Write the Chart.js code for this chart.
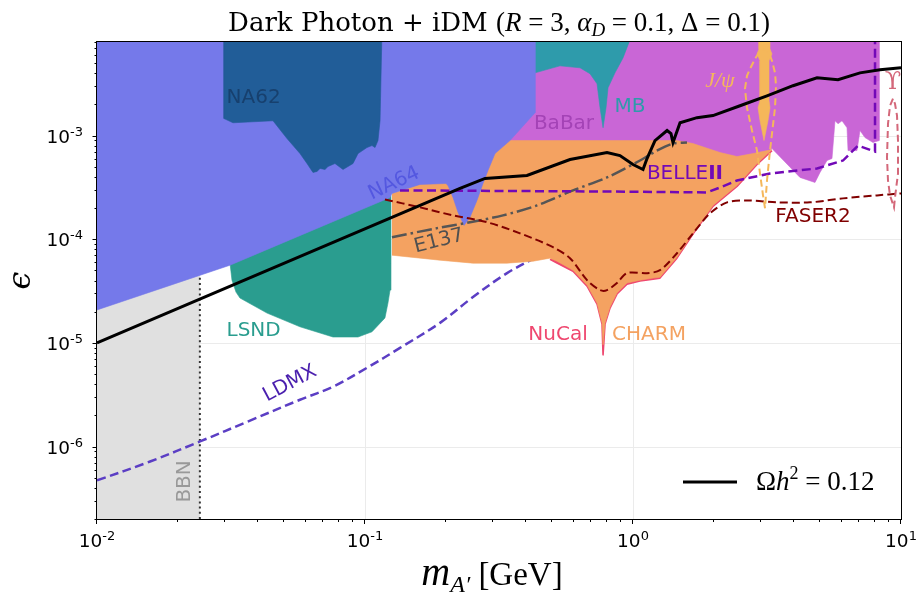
<!DOCTYPE html>
<html>
<head>
<meta charset="utf-8">
<script src="https://cdn.jsdelivr.net/npm/chart.js@4.4.1/dist/chart.umd.min.js"></script>
<style>
  html, body { margin: 0; padding: 0; background: #fff; }
</style>
</head>
<body>
<canvas id="plot" width="920" height="592"></canvas>
<script>
// x: dark photon mass m_A' [GeV], y: kinetic mixing epsilon
const xMajorTicks = [0.01, 0.1, 1, 10];
const yMajorTicks = [1e-6, 1e-5, 1e-4, 1e-3];

const bbnMass = [0.005, 0.0242, 0.0242, 0.005];
const bbnEps = [1e-7, 1e-7, 1e-2, 1e-2];
const bbnEdgeMass = [0.0242, 0.0242];
const bbnEdgeEps = [2e-7, 4.31e-5];

const na64Mass = [0.005, 0.4309, 0.4309, 0.3475, 0.3056, 0.2877, 0.2756, 0.2617, 0.2465, 0.2342, 0.2223, 0.2130, 0.2040, 0.2005, 0.1604, 0.1261, 0.1240, 0.03135, 0.01, 0.005];
const na64Eps = [1e-2, 1e-2, 1.66e-3, 8.95e-4, 6.71e-4, 4.61e-4, 3.45e-4, 2.37e-4, 1.63e-4, 1.36e-4, 1.82e-4, 2.53e-4, 3.30e-4, 3.45e-4, 3.38e-4, 2.77e-4, 2.53e-4, 5.62e-5, 2.08e-5, 2.08e-5];

const na62Mass = [0.02978, 0.02978, 0.03217, 0.04537, 0.05117, 0.05721, 0.06076, 0.06397, 0.06621, 0.06795, 0.07091, 0.07276, 0.07727, 0.08279, 0.09022, 0.0942, 0.1017, 0.1062, 0.1090, 0.1118, 0.1138, 0.1157];
const na62Eps = [1e-2, 1.46e-3, 1.33e-3, 1.39e-3, 9.36e-4, 6.71e-4, 5.38e-4, 4.41e-4, 4.51e-4, 4.82e-4, 4.71e-4, 5.03e-4, 5.38e-4, 4.71e-4, 5.38e-4, 6.71e-4, 7.67e-4, 8.01e-4, 7.67e-4, 8.95e-4, 1.39e-3, 1e-2];

const lsndMass = [0.03135, 0.03189, 0.03301, 0.03416, 0.04309, 0.05721, 0.07596, 0.0942, 0.1062, 0.1187, 0.1218, 0.1240, 0.1250];
const lsndEps = [5.88e-5, 4.03e-5, 3.09e-5, 2.71e-5, 1.94e-5, 1.43e-5, 1.14e-5, 1.14e-5, 1.28e-5, 1.74e-5, 2.42e-5, 3.23e-5, 2.65e-4];

const charmMass = [0.1261, 0.1604, 0.2005, 0.2465, 0.3189, 0.3388, 0.7534, 1.459, 1.674, 2.112, 2.444, 2.805, 3.301, 2.903, 2.444, 1.988, 1.674, 1.459, 1.261, 1.188, 1.062, 0.9498, 0.8714, 0.8208, 0.7864, 0.7731, 0.7664, 0.7342, 0.6738, 0.5972, 0.5204, 0.4900, 0.4236, 0.3388, 0.2529, 0.1905, 0.1261];
const charmEps = [2.77e-4, 3.45e-4, 3.53e-4, 4.61e-4, 8.57e-4, 8.95e-4, 8.95e-4, 8.95e-4, 8.38e-4, 6.86e-4, 6.28e-4, 6.71e-4, 7.33e-4, 5.38e-4, 3.30e-4, 2.12e-4, 1.14e-4, 6.71e-5, 4.31e-5, 4.22e-5, 4.03e-5, 3.78e-5, 3.03e-5, 2.22e-5, 1.56e-5, 9.57e-6, 1.56e-5, 2.42e-5, 3.61e-5, 5.03e-5, 6.14e-5, 6.57e-5, 6.14e-5, 5.88e-5, 5.88e-5, 6.28e-5, 7.02e-5];

const nucalMass = [0.4900, 0.5204, 0.5972, 0.6738, 0.7342, 0.7664, 0.7731, 0.7864, 0.8208, 0.8714, 0.9498, 1.062, 1.188, 1.261, 1.459, 1.674, 1.988, 2.444, 2.903, 3.301];
const nucalEps = [6.42e-5, 5.88e-5, 4.92e-5, 3.53e-5, 2.37e-5, 1.52e-5, 7.67e-6, 1.52e-5, 2.17e-5, 2.96e-5, 3.69e-5, 3.95e-5, 4.12e-5, 4.22e-5, 6.57e-5, 1.12e-4, 2.08e-4, 3.23e-4, 5.26e-4, 7.17e-4];

const babarMass = [0.2, 8.280, 8.280, 7.863, 7.339, 7.031, 6.851, 6.344, 6.289, 6.025, 5.821, 5.672, 5.527, 5.296, 4.987, 4.777, 4.199, 3.301, 2.903, 2.508, 0.7534, 0.2005];
const babarEps = [1e-2, 1e-2, 8.95e-4, 8.57e-4, 9.57e-4, 1.12e-3, 7.17e-4, 7.17e-4, 1.19e-3, 1.39e-3, 1.30e-3, 1.39e-3, 6.01e-4, 5.75e-4, 4.41e-4, 3.53e-4, 3.95e-4, 7.50e-4, 6.01e-4, 6.01e-4, 6.01e-4, 2.96e-4];

const mbMass = [0.4236, 1.0, 0.9177, 0.8565, 0.8069, 0.7932, 0.7731, 0.7534, 0.7342, 0.6914, 0.6344, 0.5340, 0.4309, 0.4236];
const mbEps = [1e-2, 1e-2, 5.62e-3, 4.03e-3, 2.89e-3, 1.86e-3, 1.19e-3, 1.86e-3, 3.16e-3, 3.95e-3, 4.51e-3, 4.71e-3, 4.03e-3, 4.03e-3];

const jpsiBandMass = [2.953, 2.953, 2.903, 2.978, 2.978, 2.928, 2.978, 3.082, 3.189, 3.245, 3.217, 3.217, 3.301, 3.245, 3.245];
const jpsiBandEps = [1e-2, 6.86e-3, 6.14e-3, 5.26e-3, 2.17e-3, 1.86e-3, 1.39e-3, 8.95e-4, 1.39e-3, 1.86e-3, 2.17e-3, 5.26e-3, 6.14e-3, 6.86e-3, 1e-2];

const jpsiLoopMass = [3.109, 3.056, 2.978, 2.903, 2.780, 2.663, 2.617, 2.663, 2.733, 2.853, 2.978, 3.109, 3.217, 3.301, 3.388, 3.417, 3.388, 3.301, 3.245, 3.162, 3.109];
const jpsiLoopEps = [1.99e-4, 2.65e-4, 4.31e-4, 7.17e-4, 1.12e-3, 1.86e-3, 2.83e-3, 3.78e-3, 4.41e-3, 5.50e-3, 6.57e-3, 6.86e-3, 6.28e-3, 5.26e-3, 4.03e-3, 3.03e-3, 1.86e-3, 1.045e-3, 7.17e-4, 3.69e-4, 1.99e-4];

const upsLoopMass = [9.335, 9.099, 8.943, 8.867, 8.943, 9.099, 9.416, 9.497, 9.745, 9.745, 9.663, 9.497, 9.335];
const upsLoopEps = [2.27e-3, 1.94e-3, 1.30e-3, 6.14e-4, 3.69e-4, 2.65e-4, 2.03e-4, 2.53e-4, 4.31e-4, 8.95e-4, 1.56e-3, 2.03e-3, 2.27e-3];

const relicMass = [0.01, 0.2262, 0.2804, 0.4022, 0.5820, 0.7999, 0.8941, 1.0, 1.090, 1.128, 1.208, 1.340, 1.386, 1.410, 1.498, 1.733, 1.988, 2.508, 3.162, 3.954, 4.860, 5.821, 7.031, 8.351, 10];
const relicEps = [1.0e-5, 3.09e-4, 3.86e-4, 4.12e-4, 5.88e-4, 6.86e-4, 6.42e-4, 5.26e-4, 4.71e-4, 6.01e-4, 8.95e-4, 1.12e-3, 1.045e-3, 8.57e-4, 1.33e-3, 1.49e-3, 1.56e-3, 1.94e-3, 2.42e-3, 3.03e-3, 3.61e-3, 3.46e-3, 4.03e-3, 4.31e-3, 4.51e-3];

const e137Mass = [0.1261, 0.1857, 0.2465, 0.3273, 0.4384, 0.5972, 0.7999, 1.062, 1.229, 1.410, 1.590];
const e137Eps = [1.045e-4, 1.28e-4, 1.46e-4, 1.70e-4, 2.12e-4, 2.96e-4, 3.95e-4, 5.75e-4, 7.17e-4, 8.38e-4, 8.57e-4];

const faserMass = [0.1187, 0.1604, 0.2130, 0.2853, 0.3788, 0.5029, 0.5820, 0.6738, 0.7534, 0.7999, 0.8714, 0.9498, 1.128, 1.261, 1.459, 1.674, 1.938, 2.243, 2.663, 3.447, 4.576, 6.077, 8.138, 10];
const faserEps = [2.42e-4, 2.03e-4, 1.70e-4, 1.46e-4, 1.14e-4, 8.38e-5, 6.57e-5, 4.03e-5, 3.23e-5, 3.23e-5, 3.78e-5, 4.71e-5, 4.71e-5, 5.03e-5, 7.33e-5, 1.14e-4, 1.78e-4, 2.27e-4, 2.37e-4, 2.27e-4, 2.27e-4, 2.48e-4, 2.65e-4, 2.77e-4];

const ldmxMass = [0.01, 0.01578, 0.02423, 0.03724, 0.05721, 0.07596, 0.1017, 0.1351, 0.1905, 0.2529, 0.3388, 0.4498];
const ldmxEps = [4.71e-7, 7.17e-7, 1.12e-6, 1.78e-6, 2.83e-6, 3.78e-6, 5.75e-6, 8.95e-6, 1.56e-5, 2.77e-5, 4.71e-5, 7.02e-5];

const belleMass = [0.1351, 0.7534, 1.889, 2.112, 2.444, 3.245, 4.860, 6.077, 6.910, 7.999, 7.999];
const belleEps = [2.96e-4, 2.89e-4, 2.83e-4, 3.16e-4, 3.69e-4, 4.31e-4, 4.82e-4, 5.75e-4, 8.01e-4, 7.02e-4, 1e-2];

// text annotations, anchored in data coordinates (centre of text)
const SANS = '"DejaVu Sans"';
const SERIF = '"Liberation Serif"';
const annotations = [
    { parts: [['NA62', `20px ${SANS}`]], m: 0.0384, e: 2.32e-3, color: '#17406e', rot: 0 },
    { parts: [['NA64', `20px ${SANS}`]], m: 0.1283, e: 3.45e-4, color: '#5458e0', rot: -25 },
    { parts: [['BaBar', `20px ${SANS}`]], m: 0.5527, e: 1.30e-3, color: '#a443b6', rot: 0 },
    { parts: [['MB', `20px ${SANS}`]], m: 0.9745, e: 1.90e-3, color: '#2e9bab', rot: 0 },
    { parts: [['BELLE', `20px ${SANS}`], ['II', `bold 20px ${SANS}`]], m: 1.563, e: 4.31e-4, color: '#7209b7', rot: 0 },
    { parts: [['FASER2', `20px ${SANS}`]], m: 4.695, e: 1.63e-4, color: '#800000', rot: 0 },
    { parts: [['E137', `20px ${SANS}`]], m: 0.1889, e: 9.57e-5, color: '#505050', rot: -14 },
    { parts: [['LSND', `20px ${SANS}`]], m: 0.0384, e: 1.30e-5, color: '#2a9d8f', rot: 0 },
    { parts: [['NuCal', `20px ${SANS}`]], m: 0.5249, e: 1.19e-5, color: '#ef476f', rot: 0 },
    { parts: [['CHARM', `20px ${SANS}`]], m: 1.147, e: 1.19e-5, color: '#f4a261', rot: 0 },
    { parts: [['LDMX', `20px ${SANS}`]], m: 0.0525, e: 4.04e-6, color: '#4a1fae', rot: -28 },
    { parts: [['BBN', `20px ${SANS}`]], m: 0.0213, e: 4.61e-7, color: '#999999', rot: -90 },
    { parts: [['J/ψ', `italic 22px ${SERIF}`]], m: 2.112, e: 3.38e-3, color: '#f5b75a', rot: 0 },
    { parts: [['ϒ', `24px "DejaVu Serif"`]], m: 9.335, e: 3.23e-3, color: '#d4687a', rot: 0 }
];

function pts(xs, ys) {
    return xs.map((x, i) => ({ x: x, y: ys[i] }));
}

function area(xs, ys, color, order, extra) {
    return Object.assign({
        data: pts(xs, ys), showLine: true, fill: 'shape',
        backgroundColor: color, borderColor: color, borderWidth: 0.6,
        borderJoinStyle: 'round', pointRadius: 0, order: order
    }, extra || {});
}

function curve(xs, ys, color, width, dash, order, tension) {
    return {
        data: pts(xs, ys), showLine: true, fill: false,
        borderColor: color, borderWidth: width, borderDash: dash,
        pointRadius: 0, order: order, tension: tension || 0
    };
}

// measure + draw a run of differently styled text pieces
function drawRich(ctx, parts, x, y, align) {
    let w = 0;
    parts.forEach(p => { ctx.font = p[1]; w += ctx.measureText(p[0]).width; });
    let cx = align === 'center' ? x - w / 2 : (align === 'right' ? x - w : x);
    parts.forEach(p => {
        ctx.font = p[1];
        ctx.fillText(p[0], cx, y + (p[2] || 0));
        cx += ctx.measureText(p[0]).width;
    });
    return w;
}

function hline(ctx, x0, y0, x1, y1) {
    ctx.beginPath(); ctx.moveTo(x0, y0); ctx.lineTo(x1, y1); ctx.stroke();
}

const decor = {
    id: 'decor',
    beforeDatasetsDraw(chart) {
        // light major grid, beneath the shaded regions
        const {ctx, chartArea: a, scales: {x, y}} = chart;
        ctx.save();
        ctx.strokeStyle = '#ebebeb';
        ctx.lineWidth = 1;
        xMajorTicks.forEach(v => {
            const px = Math.round(x.getPixelForValue(v)) + 0.5;
            if (px > a.left + 2 && px < a.right - 2) hline(ctx, px, a.top, px, a.bottom);
        });
        yMajorTicks.forEach(v => {
            const py = Math.round(y.getPixelForValue(v)) + 0.5;
            hline(ctx, a.left, py, a.right, py);
        });
        ctx.restore();
    },
    afterDatasetsDraw(chart) {
        const {ctx, scales: {x, y}} = chart;
        ctx.save();
        ctx.textBaseline = 'middle';
        annotations.forEach(t => {
            ctx.save();
            ctx.translate(x.getPixelForValue(t.m), y.getPixelForValue(t.e));
            ctx.rotate(t.rot * Math.PI / 180);
            ctx.fillStyle = t.color;
            drawRich(ctx, t.parts, 0, 0, 'center');
            ctx.restore();
        });
        ctx.restore();
    },
    afterDraw(chart) {
        const {ctx, chartArea: a, scales: {x, y}} = chart;
        ctx.save();
        // spines
        ctx.strokeStyle = '#000';
        ctx.lineWidth = 1;
        ctx.strokeRect(a.left - 0.5, a.top - 0.5, a.right - a.left + 1, a.bottom - a.top + 1);

        // ticks
        for (let e = -8; e <= -2; e++) {
            for (let k = 1; k <= 9; k++) {
                const v = k * Math.pow(10, e);
                if (v < y.min * 0.999 || v > y.max * 1.001) continue;
                const py = Math.round(y.getPixelForValue(v)) + 0.5;
                hline(ctx, a.left - (k === 1 ? 4.5 : 2.5), py, a.left, py);
            }
        }
        for (let e = -2; e <= 1; e++) {
            for (let k = 1; k <= 9; k++) {
                const v = k * Math.pow(10, e);
                if (v < x.min * 0.999 || v > x.max * 1.001) continue;
                const px = Math.round(x.getPixelForValue(v)) - 0.5;
                hline(ctx, px, a.bottom, px, a.bottom + (k === 1 ? 5 : 3));
            }
        }

        // tick labels
        ctx.fillStyle = '#000';
        ctx.textBaseline = 'alphabetic';
        yMajorTicks.forEach(v => {
            const py = y.getPixelForValue(v);
            const ex = String(Math.round(Math.log10(v)));
            drawRich(ctx, [['10', `18.5px ${SANS}`], [ex, `13px ${SANS}`, -7]], a.left - 14, py + 7, 'right');
        });
        xMajorTicks.forEach(v => {
            const px = x.getPixelForValue(v);
            const ex = String(Math.round(Math.log10(v)));
            drawRich(ctx, [['10', `18.5px ${SANS}`], [ex, `13px ${SANS}`, -7]], px, a.bottom + 28, 'center');
        });

        // title
        const cxm = (a.left + a.right) / 2;
        drawRich(ctx, [
            ['Dark Photon + iDM ', `26px "DejaVu Serif"`],
            ['(', `27px ${SERIF}`],
            ['R', `italic 27px ${SERIF}`],
            [' = 3, ', `27px ${SERIF}`],
            ['α', `italic 27px ${SERIF}`],
            ['D', `italic 19px ${SERIF}`, 5],
            [' = 0.1, Δ = 0.1)', `27px ${SERIF}`]
        ], cxm, 31, 'center');

        // x axis label
        drawRich(ctx, [
            ['m', `italic 40px ${SERIF}`],
            ['A′', `italic 24px ${SERIF}`, 7],
            [' [GeV]', `33px ${SERIF}`]
        ], cxm - 7, 585, 'center');

        // y axis label
        ctx.save();
        ctx.translate(30, (a.top + a.bottom) / 2);
        ctx.rotate(-Math.PI / 2);
        ctx.textAlign = 'center';
        ctx.font = `italic 32px "DejaVu Serif"`;
        ctx.fillText('ϵ', 0, 0);
        ctx.restore();

        // legend
        ctx.strokeStyle = '#000';
        ctx.lineWidth = 3;
        hline(ctx, a.right - 218, a.bottom - 37, a.right - 164, a.bottom - 37);
        drawRich(ctx, [
            ['Ω', `27px ${SERIF}`],
            ['h', `italic 27px ${SERIF}`],
            ['2', `18px ${SERIF}`, -11],
            [' = 0.12', `27px ${SERIF}`]
        ], a.right - 145, a.bottom - 29, 'left');
        ctx.restore();
    }
};

const datasets = [
    area(bbnMass, bbnEps, '#e0e0e0', 100, { borderWidth: 0 }),
    curve(bbnEdgeMass, bbnEdgeEps, '#333333', 2, [2, 3.2], 98),
    area(babarMass, babarEps, '#c966d6', 95),
    area(mbMass, mbEps, '#2e9bab', 92),
    curve(ldmxMass, ldmxEps, '#5b3ec4', 2.5, [9, 4.5], 90, 0.35),
    area(nucalMass, nucalEps, '#ef476f', 89, { borderWidth: 1.6 }),
    area(charmMass, charmEps, '#f4a261', 88),
    area(lsndMass, lsndEps, '#2a9d8f', 84),
    area(na64Mass, na64Eps, '#7579ea', 82),
    area(na62Mass, na62Eps, '#215d98', 80),
    area(jpsiBandMass, jpsiBandEps, '#f5b75a', 78),
    curve(e137Mass, e137Eps, '#555555', 2.5, [15, 4, 2.5, 4], 70, 0.3),
    curve(faserMass, faserEps, '#800000', 2, [8, 4], 68, 0.3),
    curve(belleMass, belleEps, '#7209b7', 2.5, [9, 4.5], 66),
    curve(jpsiLoopMass, jpsiLoopEps, '#f5b75a', 2, [7, 4], 64),
    curve(upsLoopMass, upsLoopEps, '#d4687a', 2, [7, 4], 62),
    curve(relicMass, relicEps, '#000000', 3, [], 60)
];

new Chart(document.getElementById('plot'), {
    type: 'scatter',
    data: { datasets: datasets },
    options: {
        responsive: false,
        animation: false,
        events: [],
        layout: { padding: { left: 97, right: 19, top: 42, bottom: 73 } },
        plugins: {
            legend: { display: false },
            tooltip: { enabled: false },
            title: { display: false }
        },
        scales: {
            x: { type: 'logarithmic', min: 0.01, max: 10, display: false },
            y: { type: 'logarithmic', min: 2e-7, max: 8e-3, display: false }
        }
    },
    plugins: [decor]
});
</script>
</body>
</html>
